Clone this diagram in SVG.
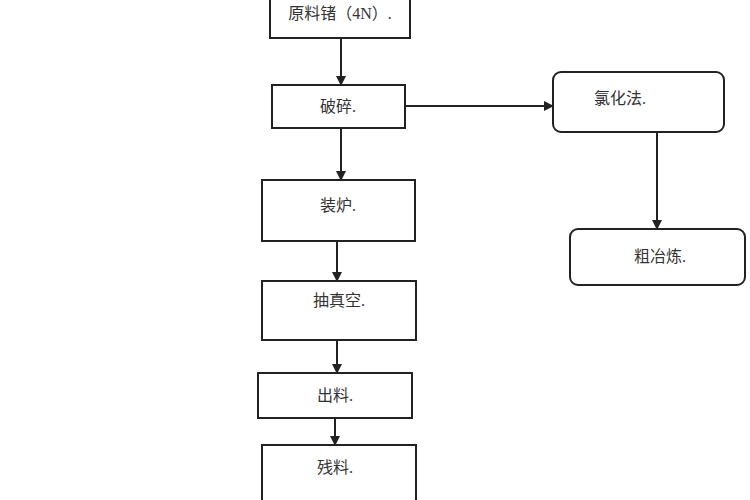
<svg xmlns="http://www.w3.org/2000/svg" width="750" height="500" viewBox="0 0 750 500">
<style>
.b{fill:#fff;stroke:#222;stroke-width:2}
.t{font-family:"Liberation Serif","Noto Sans CJK SC",serif;font-size:16px;fill:#333;text-anchor:middle}
.c{stroke:#222;stroke-width:2;fill:none;marker-end:url(#a)}
</style>
<defs><marker id="a" markerWidth="10" markerHeight="10" refX="9" refY="5" orient="auto" markerUnits="userSpaceOnUse"><path d="M0,0 L10,5 L0,10 Z" fill="#222"/></marker></defs>
<rect width="750" height="500" fill="#fff"/>
<g id="n1"><rect class="b" x="270" y="-10" width="140" height="48"/><text class="t" x="340" y="19">原料锗（4N）.</text></g>
<g id="n2"><rect class="b" x="272" y="85" width="133" height="43"/><text class="t" x="338" y="112">破碎.</text></g>
<g id="n3"><rect class="b" x="262" y="180" width="153" height="61"/><text class="t" x="338" y="211">装炉.</text></g>
<g id="n4"><rect class="b" x="262" y="281" width="154" height="59"/><text class="t" x="339" y="306">抽真空.</text></g>
<g id="n5"><rect class="b" x="258" y="373" width="154" height="45"/><text class="t" x="335" y="401">出料.</text></g>
<g id="n6"><rect class="b" x="262" y="445" width="154" height="65"/><text class="t" x="335" y="473">残料.</text></g>
<g id="n7"><rect class="b" x="553" y="72" width="171" height="60" rx="8"/><text class="t" x="620" y="104">氯化法.</text></g>
<g id="n8"><rect class="b" x="570" y="229" width="175" height="56" rx="8"/><text class="t" x="660" y="262">粗冶炼.</text></g>
<g id="connectors">
<path class="c" d="M341,38 V85"/>
<path class="c" d="M341,128 V180"/>
<path class="c" d="M337,241 V281"/>
<path class="c" d="M337,340 V373"/>
<path class="c" d="M335,418 V445"/>
<path class="c" d="M405,106 H553"/>
<path class="c" d="M657,132 V229"/>
</g>
</svg>
